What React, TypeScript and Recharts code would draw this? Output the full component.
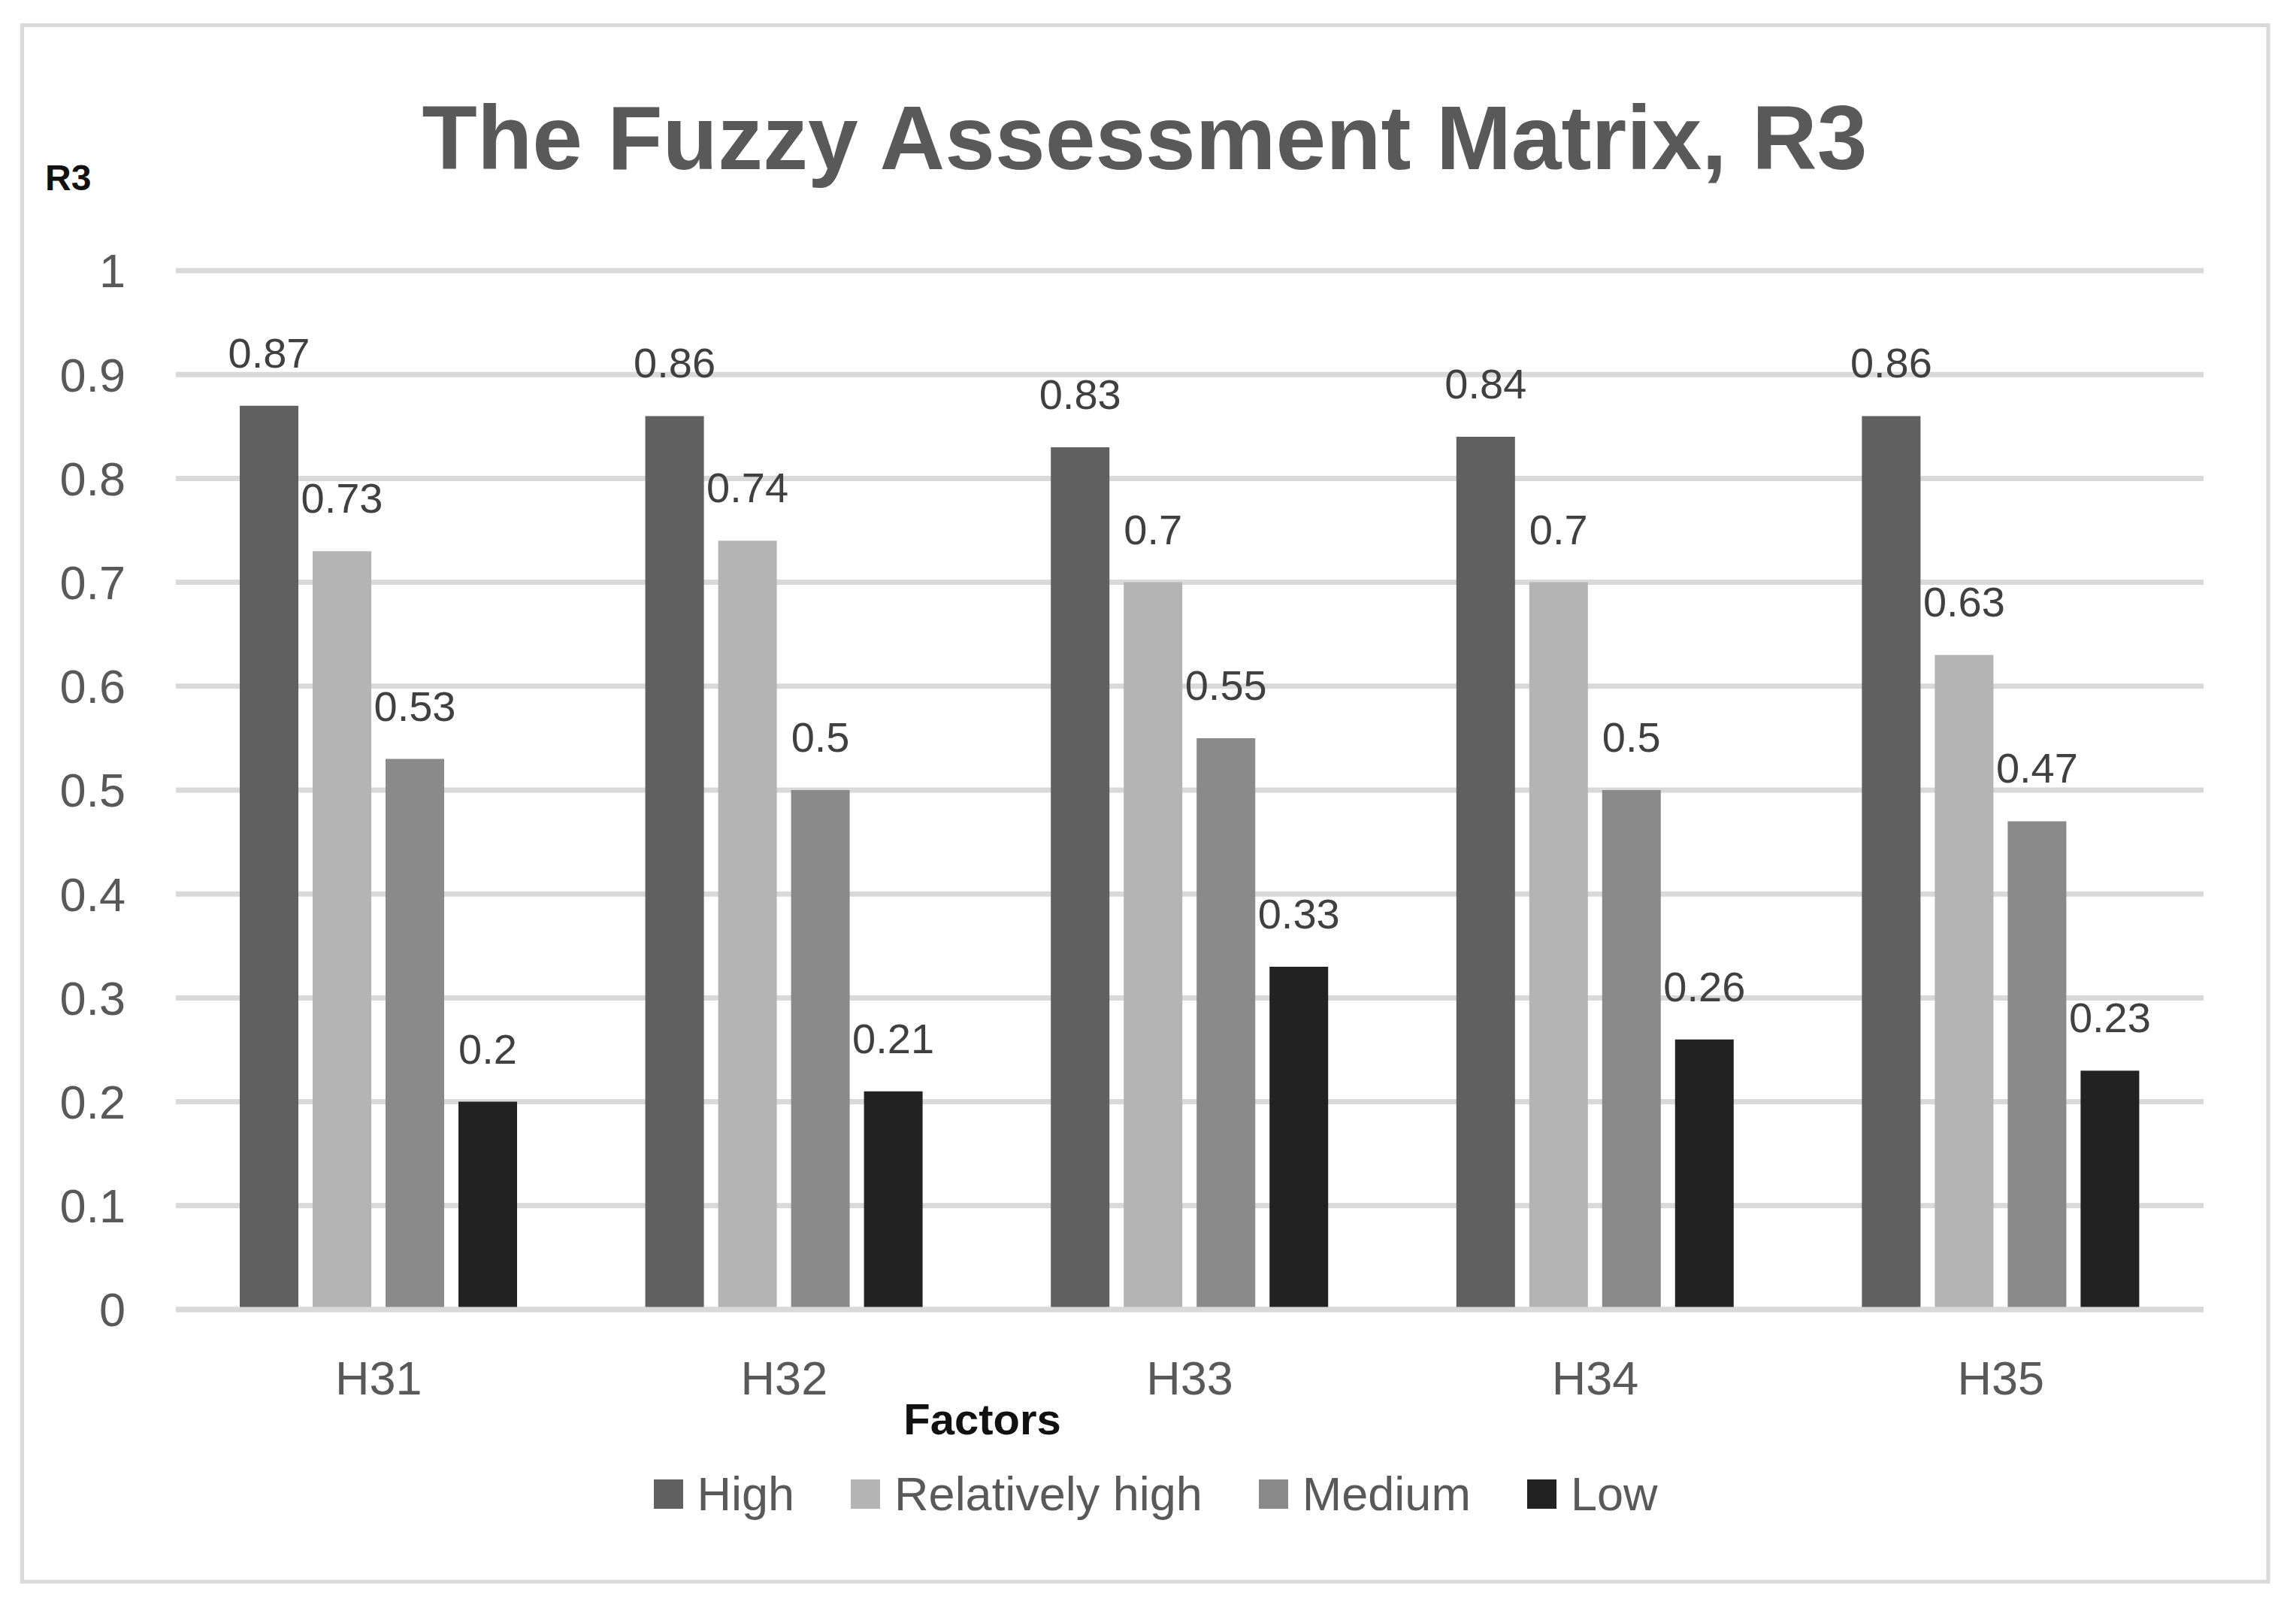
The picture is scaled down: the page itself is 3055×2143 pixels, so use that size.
import { BarChart, Bar, XAxis, YAxis, CartesianGrid, Legend, LabelList } from "recharts";

const factors = ["H31", "H32", "H33", "H34", "H35"];
const high = [0.87, 0.86, 0.83, 0.84, 0.86];
const relativelyHigh = [0.73, 0.74, 0.7, 0.7, 0.63];
const medium = [0.53, 0.5, 0.55, 0.5, 0.47];
const low = [0.2, 0.21, 0.33, 0.26, 0.23];
const yTicks = [0, 0.1, 0.2, 0.3, 0.4, 0.5, 0.6, 0.7, 0.8, 0.9, 1];

const series = [
  { key: "high", name: "High", color: "#606060" },
  { key: "relHigh", name: "Relatively high", color: "#b4b4b4" },
  { key: "medium", name: "Medium", color: "#8a8a8a" },
  { key: "low", name: "Low", color: "#222222" },
];

const data = factors.map((f, i) => ({
  factor: f,
  high: high[i],
  relHigh: relativelyHigh[i],
  medium: medium[i],
  low: low[i],
}));

const font = "'Liberation Sans', Arial, sans-serif";
const W = 3055;
const H = 2143;

// keep the series order (recharts sorts the legend payload by name)
const order = (v: string) => series.findIndex((s) => s.name === v);

function LegendRow({ payload }: any) {
  const items = [...(payload || [])].sort((a: any, b: any) => order(a.value) - order(b.value));
  return (
    <div style={{ display: "flex", justifyContent: "center", gap: 75, paddingLeft: 20 }}>
      {items.map((p: any) => (
        <div key={p.value} style={{ display: "flex", alignItems: "center", height: 63 }}>
          <span style={{ display: "block", width: 39, height: 39, background: p.color, marginRight: 19 }} />
          <span style={{ fontFamily: font, fontSize: 63, lineHeight: "63px", color: "#595959" }}>{p.value}</span>
        </div>
      ))}
    </div>
  );
}

export default function App() {
  return (
    <div style={{ position: "absolute", left: 0, top: 0, width: W, height: H, background: "#fff" }}>
      <BarChart
        width={W}
        height={H}
        data={data}
        margin={{ top: 360, right: 123, bottom: 301, left: 0 }}
        barSize={78}
        barGap={19}
      >
        <CartesianGrid horizontal={true} vertical={false} stroke="#d9d9d9" strokeWidth={7} />
        <XAxis
          dataKey="factor"
          height={100}
          tickSize={0}
          tickMargin={68}
          axisLine={{ stroke: "#d9d9d9", strokeWidth: 7 }}
          tick={{ fontSize: 63, fill: "#595959", fontFamily: font }}
        />
        <YAxis
          width={234}
          domain={[0, 1]}
          ticks={yTicks}
          tickSize={0}
          tickMargin={67}
          axisLine={false}
          tickLine={false}
          tick={{ fontSize: 63, fill: "#595959", fontFamily: font }}
        />
        <Legend
          layout="horizontal"
          verticalAlign="middle"
          align="center"
          content={<LegendRow />}
          wrapperStyle={{ top: 1956, left: 0, width: W }}
        />
        {series.map((s) => (
          <Bar key={s.key} dataKey={s.key} name={s.name} fill={s.color} isAnimationActive={false}>
            <LabelList dataKey={s.key} position="top" offset={51} fill="#404040" fontSize={56} fontFamily={font} />
          </Bar>
        ))}
      </BarChart>
      <svg width={W} height={H} style={{ position: "absolute", left: 0, top: 0, pointerEvents: "none" }}>
        <rect x={29.5} y={33.5} width={2988.5} height={2070.5} fill="none" stroke="#d9d9d9" strokeWidth={5} />
        <text x={1523} y={225} textAnchor="middle" fill="#595959" fontSize={120} fontWeight="bold" fontFamily={font}>
          The Fuzzy Assessment Matrix, R3
        </text>
        <text x={60} y={253} fill="#111" fontSize={48} fontWeight="bold" fontFamily={font}>
          R3
        </text>
        <text x={1307} y={1908} textAnchor="middle" fill="#111" fontSize={58} fontWeight="bold" fontFamily={font}>
          Factors
        </text>
      </svg>
    </div>
  );
}
